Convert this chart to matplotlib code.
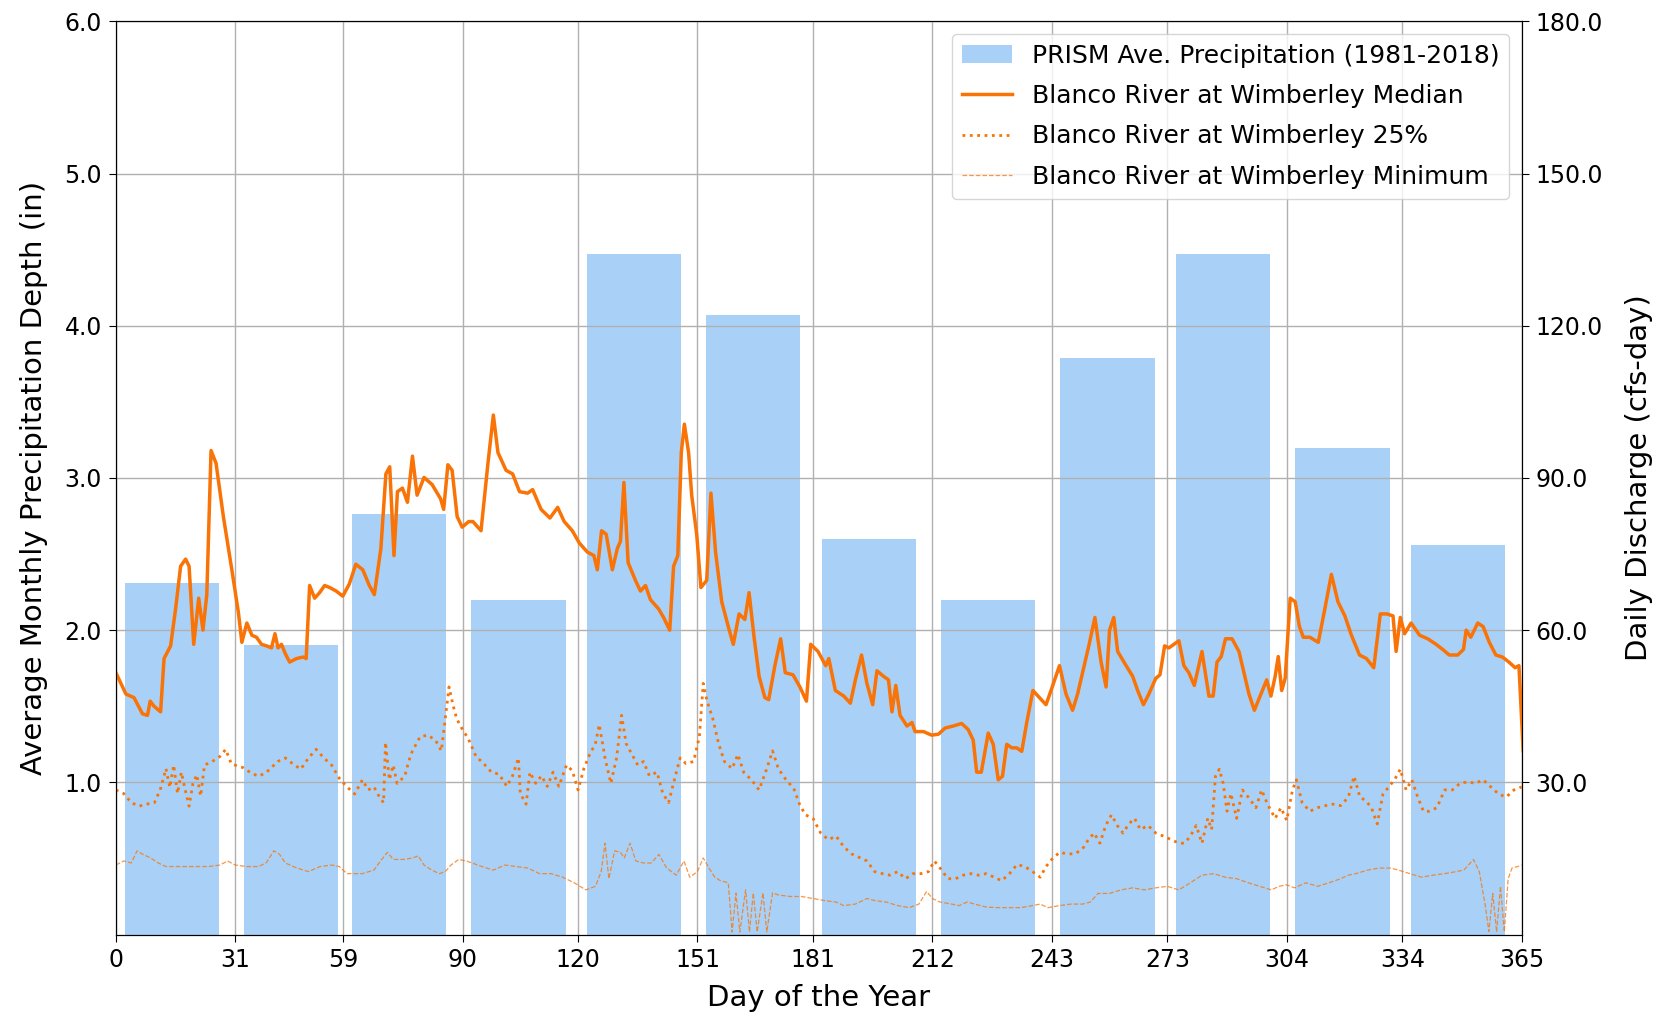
import matplotlib
matplotlib.use('Agg')
import matplotlib.pyplot as plt
import numpy as np

# monthly PRISM precipitation (in), bars centred mid-month
month_start = [0, 31, 59, 90, 120, 151, 181, 212, 243, 273, 304, 334]
precip = [2.31, 1.90, 2.76, 2.20, 4.47, 4.07, 2.60, 2.20, 3.79, 4.47, 3.20, 2.56]
xtick_days = [0, 31, 59, 90, 120, 151, 181, 212, 243, 273, 304, 334, 365]

# Blanco River at Wimberley, daily discharge (cfs)
med_day = [0, 2.6, 4.7, 6.9, 8.2, 8.9, 9.9, 11.6, 12.5, 14.2, 15.5, 16.8, 18.1, 19, 20.2, 21.5,
           22.6, 23.6, 24.7, 26, 27.9, 30.1, 31.8, 32.7, 34, 35.3, 36.5, 37.8, 39.1, 40.4, 41.3,
           42.1, 43, 43.9, 45.1, 46.9, 48.6, 49.4, 50.3, 51.6, 52.9, 54.2, 55.5, 57.2, 58.9,
           60.6, 62.3, 64.1, 65.8, 67.1, 68.8, 70.1, 71.1, 72.2, 73.1, 74.4, 75.7, 77, 78.2,
           80, 82.1, 84.3, 85.1, 86.2, 87.3, 88.6, 89.9, 91.6, 92.7, 94.8, 96.6, 98, 99.2,
           101.3, 103, 104.8, 106.9, 108.2, 110.4, 112.7, 114.7, 116.4, 118.5, 120.3, 122.4,
           124.1, 125, 126.1, 127.3, 128.9, 130.2, 131, 131.9, 133, 134.9, 136.2, 137.5, 138.8,
           140.9, 142.2, 143.8, 144.8, 145.9, 146.8, 147.6, 148.7, 149.5, 150.8, 151.9, 153.4,
           154.5, 155.7, 157.3, 159, 160.3, 161.8, 163.3, 164.4, 165.7, 167, 168.5, 169.5,
           171.1, 172.6, 173.8, 175.8, 177.6, 179.3, 180.4, 182.3, 184.3, 185.1, 186.8, 189,
           190.7, 192, 193.6, 195, 196.5, 197.6, 199.3, 200.6, 201.5, 202.5, 203.6, 205.4,
           206.7, 207.5, 209.7, 211.8, 213.6, 215.3, 217.4, 219.6, 221.3, 222.6, 223.5, 224.7,
           226.5, 227.8, 229.1, 230.2, 231.3, 232.6, 233.9, 235.2, 236.5, 238.1, 239.8, 241.5,
           242.8, 245, 246.7, 248.4, 249.7, 251.4, 252.7, 254.2, 255.8, 257.1, 258, 259.1,
           260.1, 262.3, 264, 265.3, 266.8, 268.2, 270, 271.1, 272.3, 273.4, 274.7, 276, 277.3,
           278.6, 280, 282, 283.8, 284.9, 285.9, 287, 288.1, 289.8, 291.6, 292.9, 294.2, 295.6,
           297.1, 298.8, 299.9, 301, 301.8, 302.7, 303.6, 304.9, 306.2, 307.3, 308.3, 310,
           312.2, 313.9, 315.6, 317.3, 319.1, 320.8, 322.9, 324.7, 326.6, 328.3, 330, 331.6,
           332.4, 333.5, 334.6, 336.3, 338.5, 340.6, 342.8, 344.5, 346.2, 348.4, 349.9, 350.6,
           351.8, 353.6, 355, 356.6, 358.3, 360, 361.7, 363.3, 364.3, 365.4]
med_cfs = [51.6, 47.4, 46.7, 43.5, 43.2, 46, 45, 43.9, 54.4, 56.9, 64.2, 72.6, 74, 72.6, 57.2, 66.3,
           60, 67, 95.4, 92.9, 82.4, 71.9, 63.5, 57.6, 61.4, 59, 58.6, 57.2, 56.9, 56.5, 59.3,
           56.5, 57.2, 55.5, 53.7, 54.4, 54.7, 54.4, 68.8, 66.3, 67.4, 68.8, 68.4, 67.7, 66.7,
           69.1, 73, 71.9, 68.8, 67, 76.1, 90.8, 92.2, 74.7, 87.3, 88, 85.2, 94.3, 86.6,
           90.1, 88.7, 85.9, 83.8, 92.6, 91.5, 82.4, 80.3, 81.4, 81.4, 79.6, 92.9, 102.4, 95,
           91.5, 90.8, 87.3, 87, 87.7, 83.8, 82.1, 84.2, 81.4, 79.6, 77.2, 75.4,
           74.7, 71.9, 79.6, 78.9, 71.9, 76.1, 77.5, 89.1, 73.3, 69.8, 67.7, 68.8, 66,
           64.2, 62.5, 60, 72.6, 74.7, 95, 100.6, 95, 86.6, 78.9, 68.4, 69.8,
           87, 75.4, 65.6, 60.7, 57.2, 63.2, 62.1, 67.4, 58.6, 50.9, 46.7, 46.3,
           53, 58.3, 51.6, 51.2, 48.8, 46, 57.2, 55.8, 53, 54.4, 48.1, 47,
           45.6, 50.2, 55.1, 49.5, 45.3, 52, 50.9, 50.2, 43.9, 49.1, 43.2, 41.1,
           41.8, 40, 40, 39.3, 39.5, 40.7, 41.1, 41.6, 40.4, 38.3, 32, 32,
           39.7, 37.5, 30.5, 31.2, 37.5, 36.8, 36.8, 36.1, 41.8, 48.1, 46.7, 45.3,
           48.1, 53, 47.4, 44.2, 47.4, 53, 57.2, 62.5, 53.7, 48.8, 60, 62.5,
           55.8, 53, 50.9, 48.1, 45.3, 47.4, 50.5, 51.2, 56.9, 56.5, 57.2, 57.9, 53,
           51.6, 49.1, 55.8, 47, 47, 53.7, 54.8, 58.3, 58.3, 55.8, 51.6, 47.4, 44.2,
           47, 50.2, 47, 50.9, 54.8, 48.1, 50.5, 66.3, 65.6, 60.7, 58.6, 58.6,
           57.6, 64.2, 71, 65.6, 62.8, 59, 55.1, 54.4, 52.6, 63.2, 63.2, 62.8,
           55.8, 62.5, 59.3, 61.4, 59, 58.3, 57.2, 56.2, 55.1, 55.1, 56.2, 60,
           58.6, 61.4, 60.7, 57.6, 55.1, 54.7, 53.7, 52.6, 53, 36.2]

q25_day = [0, 2, 4, 6, 8, 10, 11.5, 13, 14, 15, 16, 17, 18, 19, 20, 21, 22, 23, 25, 27, 28.5,
           30, 33, 35, 37, 39, 42, 44, 46, 48, 50, 52, 54, 56, 58, 60, 62, 64, 65.5, 67, 68.5,
           69.5, 70, 71, 72, 73, 75, 76, 77, 79, 81, 83, 84.5, 85.5, 86.5, 87.5, 88.5, 90,
           91.5, 93.5, 95.5, 97.5, 99.5, 101.5, 103, 104.5, 105, 106.5, 107.5, 109, 110.5, 112,
           113.5, 115, 117, 118.5, 120, 121.5, 123, 124.5, 125.5, 127, 128.5, 130, 131.3, 132.5,
           134, 135.5, 137, 138.5, 140.5, 142, 143.5, 145, 146.5, 148, 150, 151.5, 152.5, 153.5,
           155, 156.5, 158, 160, 161.5, 163, 165, 167, 169, 170.5, 172, 174, 176, 177.5, 179,
           181, 183, 185, 187, 189, 191, 193, 195, 197, 199, 201, 203, 205, 207, 209, 211,
           212.5, 214, 216, 218, 220, 222, 224, 226, 228, 230, 232, 234, 236, 238, 240, 241.5,
           243, 245, 247, 249, 251, 252.5, 254, 255.5, 257, 258.5, 260, 261.5, 263, 264.5, 266,
           268, 270, 272, 274, 276, 277.5, 279, 280.5, 282, 283.5, 284.5, 285.5, 286.5, 287.5,
           288.5, 289.5, 291, 292.5, 294, 296, 297.5, 299, 301, 302.5, 304, 305.5, 306.5, 308,
           310, 312, 314, 316, 318, 320, 321.5, 323, 324.5, 326, 327.5, 329, 330.5, 332, 333.5,
           335, 336.5, 338, 339.5, 341, 343, 345, 347, 349, 351, 353, 355, 357, 359, 361, 363,
           365]
q25_cfs = [28.5, 27.8, 26, 25.3, 25.7, 26, 28.5, 32.7, 29, 33.4, 27.8, 32, 28.5, 25.3, 29.8,
           31.5, 27.3, 33.4, 34.1, 35.1, 36.5, 33.6, 32.9, 31.9, 31.2, 31.9, 34.1, 34.8, 33.6,
           32.6, 34.8, 36.5, 34.8, 33.4, 30.8, 29.1, 27.7, 30.5, 28.5, 29.1, 27, 26, 37.9,
           30.5, 33.4, 29.8, 31.2, 34.1, 36.2, 39, 39.3, 38.3, 36.2, 42.5, 48.8, 45.3, 42.5,
           40.4, 38.6, 35.1, 33.7, 32, 31.6, 29.2, 31.3, 34.8, 27.8, 25.7, 32, 29.8, 31.3, 29.2,
           32, 29.2, 33.4, 32.3, 28.5, 32.7, 35.5, 37.6, 41.4, 34.8, 29.8, 34.8, 43.2, 37.6,
           35.5, 33.4, 34.1, 31.3, 32, 27.8, 26, 30.5, 34.8, 33.7, 34.1, 39, 49.5, 46,
           42.5, 37.6, 34.1, 32.7, 35.5, 32, 30.5, 28.5, 32.7, 36.2, 32.7, 30.5, 28.8, 25.7,
           23.6, 22.9, 20, 18.7, 19.4, 17.3, 15.9, 15.2, 14.5, 12.4, 12, 11.7, 12.4, 11, 12,
           12, 12.4, 14.5, 13.1, 11, 11, 11.7, 12, 11.7, 12, 11.3, 10.6, 12, 13.8, 13.4, 12.4,
           11.3, 13.4, 14.8, 16.2, 15.9, 15.9, 16.9, 18.7, 20, 18, 21.5, 23.6, 21.5, 20, 21.8,
           22.9, 20.7, 21.5, 20, 19.4, 18.7, 18, 18, 19.4, 21.5, 18, 22.9, 20.7, 31.2, 32.6,
           29.8, 24.3, 27.8, 22.9, 28.5, 27.1, 25, 28.5, 25.7, 22.9, 25, 22.5, 28.5, 30.5, 26,
           24.3, 25, 25.4, 25.7, 25.4, 27.1, 31.2, 27.1, 26.4, 25, 21.8, 27.7, 29.1, 30.5,
           32.6, 28.5, 30.5, 27.1, 24.3, 24.3, 25, 28.5, 28.5, 29.8, 30.1, 29.8, 30.5, 29.1,
           27.7, 27.1, 28.5, 29.1]

min_day = [0, 2, 4, 5.5, 7, 9, 11, 13, 16, 20, 24, 27, 29, 31, 34, 37, 39, 41, 42.5, 44, 47,
           50, 53, 56, 58, 60, 64, 67, 69, 70.5, 72, 75, 77, 78.5, 80, 82, 84, 85.5, 87, 89,
           91, 95, 98, 101, 104, 107, 110, 113, 116, 119, 122, 124.5, 126, 127, 128, 129.5,
           131, 132, 133.5, 135, 137, 139, 141, 143, 145.5, 147.5, 149, 151, 152.5, 154, 155.5,
           157, 159, 160, 161, 162, 163.5, 164.5, 165.5, 166.5, 168, 169, 170.5, 172, 175, 178,
           181, 184, 187, 189, 192, 195, 197, 200, 203, 206, 208.5, 210.5, 212, 214, 217, 219,
           221, 223, 226, 229, 232, 235, 238, 240, 242, 245, 248, 251, 253, 255, 258, 261, 264,
           267, 270, 273, 276, 279, 282, 285, 288, 291, 294, 297, 300, 302, 304, 306, 309, 312,
           315, 318, 320, 322, 325, 328, 331, 333, 336, 339, 342, 345, 348, 350, 352.5, 354,
           355.5, 356.5, 357.5, 358.5, 359.5, 360.5, 361.5, 362.5, 364, 365]
min_cfs = [13.7, 14.5, 14.1, 16.5, 15.8, 15.1, 14.1, 13.4, 13.4, 13.4, 13.4, 13.7, 14.5, 13.7,
           13.4, 13.4, 14.1, 16.5, 15.8, 14.1, 13.1, 12.4, 13.4, 13.7, 13.4, 12, 12, 12.7,
           14.8, 16.2, 14.8, 14.8, 15.1, 15.5, 13.7, 12.7, 12, 12.4, 13.7, 14.8,
           14.5, 13.4, 12.7, 13.7, 13.4, 13.1, 12, 12, 11.3, 10.2, 8.8, 9.5, 12.4, 18, 11,
           16.5, 16.2, 15.1, 18, 14.5, 14.1, 14.1, 15.8, 13.1, 11.7, 14.5, 11.3, 12.4, 15.1,
           13.1, 11.3, 10.6, 10.2, 0.5, 8.2, 0.5, 8.8, 0.5, 8.2, 0.5, 8.2, 0.5, 8.2, 7.8,
           7.5, 7.5, 7.1, 6.7, 6.4, 5.7, 6, 7.1, 6.7, 6.4, 5.7, 5.3, 6, 8.5, 7.1, 6.4, 6,
           5.7, 6.4, 6, 5.4, 5.3, 5.3, 5.3, 5.7, 6, 5.3, 5.7, 6, 6, 6.4, 8.1, 8.1, 8.8, 9.2,
           8.8, 9.2, 9.5, 8.8, 10.2, 11.7, 12, 11.3, 11, 10.2, 9.5, 8.8, 9.5, 9.8, 9.2, 10.2,
           9.5, 10.2, 11, 11.7, 12, 12.7, 13.1, 13.1, 12.7, 12, 11.3, 11.7, 12, 12.4, 12.7,
           14.8, 12.4, 6, 0.6, 8.1, 0.5, 9.5, 0.5, 11, 13.1, 13.4, 13.7]

ORANGE = '#f97306'
BAR_BLUE = '#a9d1f7'

plt.rcParams['font.size'] = 17

fig = plt.figure(figsize=(16.63, 10.18), dpi=100)
ax = fig.add_axes([0.0697, 0.082, 0.8453, 0.897])

bar_x = [d + 14.5 for d in month_start]
bars = ax.bar(bar_x, precip, width=24.5, color=BAR_BLUE,
              label='PRISM Ave. Precipitation (1981-2018)')
ax.set_xlim(0, 365)
ax.set_ylim(0, 6)
ax.set_xticks(xtick_days)
ax.set_yticks([1, 2, 3, 4, 5, 6])
ax.set_yticklabels(['%.1f' % v for v in [1, 2, 3, 4, 5, 6]])
ax.grid(True, color='#b0b0b0', linewidth=1.0)
ax.set_xlabel('Day of the Year', fontsize=21, labelpad=8)
ax.set_ylabel('Average Monthly Precipitation Depth (in)', fontsize=21, labelpad=12)
ax.tick_params(labelsize=17, length=5, pad=5)

ax2 = ax.twinx()
l1, = ax2.plot(med_day, med_cfs, color=ORANGE, linewidth=2.5,
               label='Blanco River at Wimberley Median')
l2, = ax2.plot(q25_day, q25_cfs, color=ORANGE, linewidth=2.0, linestyle=':',
               label='Blanco River at Wimberley 25%')
l3, = ax2.plot(min_day, min_cfs, color=ORANGE, linewidth=0.9, linestyle='--', alpha=0.75,
               label='Blanco River at Wimberley Minimum')
ax2.set_ylim(0, 180)
ax2.set_yticks([30, 60, 90, 120, 150, 180])
ax2.set_yticklabels(['%.1f' % v for v in [30, 60, 90, 120, 150, 180]])
ax2.set_ylabel('Daily Discharge (cfs-day)', fontsize=21, labelpad=16)
ax2.tick_params(labelsize=17, length=5, pad=5)

ax2.legend([bars, l1, l2, l3], [bars.get_label(), l1.get_label(), l2.get_label(), l3.get_label()],
           loc='upper right', fontsize=18, labelspacing=0.65)

fig.savefig('out.png', dpi=100)
